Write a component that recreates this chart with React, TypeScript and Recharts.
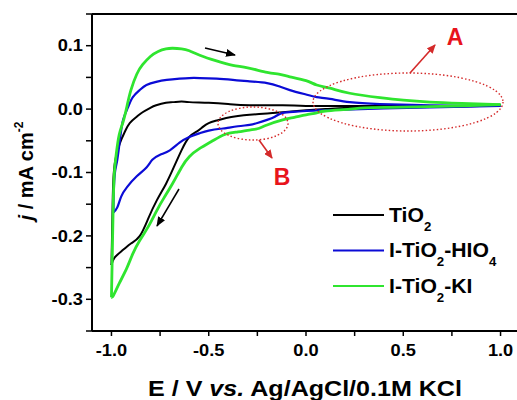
import React from "react";
import { LineChart, Line, XAxis, YAxis, ReferenceLine } from "recharts";

// [E (V), j (mA cm-2)]; forward sweep (-1.0 -> 1.0) and reverse sweep (1.0 -> -1.0)
const tio2Fwd: [number, number][] = [
  [-1.0, -0.246], [-0.997, -0.2], [-0.994, -0.15], [-0.99, -0.11], [-0.98, -0.08],
  [-0.957, -0.054], [-0.93, -0.035], [-0.906, -0.022], [-0.87, -0.012], [-0.84, -0.005],
  [-0.8, 0.002], [-0.77, 0.006], [-0.72, 0.01], [-0.685, 0.011], [-0.64, 0.012],
  [-0.6, 0.011], [-0.5, 0.01], [-0.4, 0.008], [-0.29, 0.006], [-0.12, 0.006],
  [0.0, 0.005], [0.225, 0.005], [0.5, 0.005], [0.8, 0.005], [1.0, 0.006],
];
const tio2Rev: [number, number][] = [
  [1.0, 0.006], [0.8, 0.004], [0.5, 0.003], [0.225, 0.002], [0.1, 0.0], [0.0, -0.002],
  [-0.12, -0.005], [-0.2, -0.007], [-0.29, -0.009], [-0.35, -0.011], [-0.41, -0.014],
  [-0.46, -0.018], [-0.5, -0.022], [-0.53, -0.028], [-0.56, -0.035], [-0.6, -0.044],
  [-0.64, -0.065], [-0.68, -0.092], [-0.72, -0.118], [-0.767, -0.144], [-0.81, -0.172],
  [-0.854, -0.2], [-0.9, -0.212], [-0.94, -0.222], [-0.983, -0.234], [-1.0, -0.246],
];

const hio4Fwd: [number, number][] = [
  [-0.99, -0.163], [-0.988, -0.13], [-0.982, -0.1], [-0.97, -0.08], [-0.955, -0.045],
  [-0.94, -0.017], [-0.915, 0.003], [-0.89, 0.019], [-0.855, 0.03], [-0.82, 0.038],
  [-0.77, 0.043], [-0.716, 0.046], [-0.65, 0.048], [-0.6, 0.049], [-0.546, 0.049],
  [-0.46, 0.048], [-0.376, 0.046], [-0.3, 0.044], [-0.2, 0.041], [-0.14, 0.036],
  [-0.083, 0.03], [0.0, 0.023], [0.055, 0.019], [0.123, 0.016], [0.225, 0.011],
  [0.38, 0.008], [0.637, 0.006], [0.85, 0.005], [1.0, 0.005],
];
const hio4Rev: [number, number][] = [
  [1.0, 0.005], [0.7, 0.003], [0.4, 0.001], [0.2, -0.001], [0.055, -0.002], [-0.05, -0.004],
  [-0.12, -0.006], [-0.16, -0.012], [-0.2, -0.017], [-0.25, -0.022], [-0.29, -0.025],
  [-0.35, -0.027], [-0.41, -0.03], [-0.44, -0.031], [-0.5, -0.034], [-0.546, -0.038],
  [-0.6, -0.044], [-0.65, -0.053], [-0.7, -0.065], [-0.75, -0.072], [-0.79, -0.08],
  [-0.82, -0.092], [-0.87, -0.106], [-0.92, -0.123], [-0.95, -0.138], [-0.97, -0.155],
  [-0.99, -0.163],
];

const kiFwd: [number, number][] = [
  [-1.0, -0.297], [-0.997, -0.25], [-0.994, -0.2], [-0.99, -0.14], [-0.985, -0.1],
  [-0.975, -0.07], [-0.96, -0.04], [-0.94, -0.02], [-0.92, 0.005], [-0.9, 0.03],
  [-0.87, 0.055], [-0.84, 0.07], [-0.8, 0.083], [-0.76, 0.091], [-0.72, 0.095],
  [-0.685, 0.096], [-0.64, 0.095], [-0.6, 0.092], [-0.546, 0.085], [-0.46, 0.076],
  [-0.376, 0.069], [-0.3, 0.065], [-0.2, 0.058], [-0.14, 0.055], [-0.083, 0.051],
  [0.0, 0.045], [0.055, 0.038], [0.123, 0.033], [0.225, 0.025], [0.38, 0.018],
  [0.5, 0.014], [0.637, 0.011], [0.8, 0.009], [1.0, 0.007],
];
const kiRev: [number, number][] = [
  [1.0, 0.007], [0.8, 0.005], [0.5, 0.003], [0.3, 0.002], [0.225, 0.0], [0.1, -0.003],
  [0.055, -0.006], [0.0, -0.009], [-0.06, -0.013], [-0.12, -0.017], [-0.2, -0.025],
  [-0.25, -0.031], [-0.29, -0.033], [-0.35, -0.036], [-0.417, -0.04], [-0.48, -0.05],
  [-0.546, -0.062], [-0.6, -0.075], [-0.64, -0.092], [-0.685, -0.117], [-0.73, -0.14],
  [-0.767, -0.16], [-0.81, -0.185], [-0.854, -0.207], [-0.89, -0.228], [-0.92, -0.25],
  [-0.96, -0.275], [-0.99, -0.294], [-1.0, -0.297],
];

const xTicks = [-1.0, -0.75, -0.5, -0.25, 0.0, 0.25, 0.5, 0.75, 1.0];
const yTicks = [-0.35, -0.3, -0.25, -0.2, -0.15, -0.1, -0.05, 0.0, 0.05, 0.1, 0.15];

const FONT = "'Liberation Sans', Arial, sans-serif";
const BLACK = "#000000";
const BLUE = "#0b0bd6";
const GREEN = "#2fe52f";
const RED = "#d42a2a";

const toPts = (a: [number, number][]) => a.map(([x, y]) => ({ x, y }));

const isMajor = (v: number, step: number) =>
  Math.abs(v / step - Math.round(v / step)) < 1e-6;

const XTick = (props: any) => {
  const { x, y, payload } = props;
  const v = payload.value as number;
  if (!isMajor(v, 0.5)) return <g />;
  return (
    <g transform={`translate(${x},${y}) scale(1.14,1)`}>
      <text textAnchor="middle" dy="0.71em" fontSize={16} fontWeight="bold" fill="#000" fontFamily={FONT}>
        {v.toFixed(1)}
      </text>
    </g>
  );
};

const YTick = (props: any) => {
  const { x, y, payload } = props;
  const v = payload.value as number;
  if (!isMajor(v, 0.1)) return <g />;
  return (
    <g transform={`translate(${x},${y}) scale(1.14,1)`}>
      <text textAnchor="end" dy="0.36em" fontSize={16} fontWeight="bold" fill="#000" fontFamily={FONT}>
        {v.toFixed(1)}
      </text>
    </g>
  );
};

const series = [
  { key: "tio2", color: BLACK, width: 2, fwd: tio2Fwd, rev: tio2Rev },
  { key: "hio4", color: BLUE, width: 2.2, fwd: hio4Fwd, rev: hio4Rev },
  { key: "ki", color: GREEN, width: 2.8, fwd: kiFwd, rev: kiRev },
];

const legendRows = [
  { color: BLACK, main: "TiO", parts: [["2", "sub"]] },
  { color: BLUE, main: "I-TiO", parts: [["2", "sub"], ["-HIO", "n"], ["4", "sub"]] },
  { color: GREEN, main: "I-TiO", parts: [["2", "sub"], ["-KI", "n"]] },
];

export default function App() {
  return (
    <div style={{ position: "absolute", left: 0, top: 0, width: 517, height: 400, overflow: "hidden", background: "#fff" }}>
      <LineChart width={520} height={400} margin={{ top: 14, right: 0, bottom: 0, left: 0 }}>
        <XAxis
          type="number"
          dataKey="x"
          domain={[-1.1, 1.1]}
          ticks={xTicks}
          interval={0}
          allowDataOverflow
          height={69}
          tickSize={5}
          tickMargin={9}
          tick={(p: any) => <XTick {...p} />}
          axisLine={{ stroke: "#000", strokeWidth: 2 }}
          tickLine={{ stroke: "#000", strokeWidth: 1.5 }}
        />
        <YAxis
          type="number"
          dataKey="y"
          domain={[-0.35, 0.15]}
          ticks={yTicks}
          interval={0}
          allowDataOverflow
          width={92}
          tickSize={6}
          tickMargin={3}
          tick={(p: any) => <YTick {...p} />}
          axisLine={{ stroke: "#000", strokeWidth: 2 }}
          tickLine={{ stroke: "#000", strokeWidth: 1.5 }}
        />
        <ReferenceLine y={0.15} stroke="#000" strokeWidth={2} />
        {series.flatMap((s) => [
          <Line key={s.key + "f"} data={toPts(s.fwd)} dataKey="y" stroke={s.color} strokeWidth={s.width} dot={false} isAnimationActive={false} type="natural" />,
          <Line key={s.key + "r"} data={toPts(s.rev)} dataKey="y" stroke={s.color} strokeWidth={s.width} dot={false} isAnimationActive={false} type="natural" />,
        ])}
      </LineChart>

      <svg width={517} height={400} style={{ position: "absolute", left: 0, top: 0, pointerEvents: "none" }}>
        <defs>
          <marker id="ahRed" markerWidth="9" markerHeight="8" refX="8" refY="4" orient="auto" markerUnits="userSpaceOnUse">
            <path d="M0,0 L9,4 L0,8 z" fill={RED} />
          </marker>
          <marker id="ahBlack" markerWidth="10" markerHeight="8" refX="9" refY="4" orient="auto" markerUnits="userSpaceOnUse">
            <path d="M0,0 L10,4 L0,8 z" fill="#000" />
          </marker>
        </defs>

        {/* sweep direction arrows */}
        <line x1={205} y1={48} x2={235} y2={55} stroke="#000" strokeWidth={1.5} markerEnd="url(#ahBlack)" />
        <line x1={179} y1={189} x2={157} y2={226} stroke="#000" strokeWidth={1.5} markerEnd="url(#ahBlack)" />

        {/* annotation A */}
        <ellipse cx={408} cy={102} rx={95} ry={29} fill="none" stroke={RED} strokeWidth={1.4} strokeDasharray="1.5 2.2" />
        <line x1={410} y1={73} x2={435} y2={45} stroke={RED} strokeWidth={1.6} markerEnd="url(#ahRed)" />
        <text x={455} y={45} textAnchor="middle" fontSize={23} fontWeight="bold" fill="#e8141c" fontFamily={FONT}>A</text>

        {/* annotation B */}
        <ellipse cx={253} cy={123.5} rx={35} ry={16.5} fill="none" stroke={RED} strokeWidth={1.4} strokeDasharray="1.5 2.2" />
        <line x1={259} y1={140} x2={272} y2={158} stroke={RED} strokeWidth={1.6} markerEnd="url(#ahRed)" />
        <text x={282} y={185} textAnchor="middle" fontSize={23} fontWeight="bold" fill="#e8141c" fontFamily={FONT}>B</text>

        {/* legend */}
        {legendRows.map((r, i) => {
          const cy = 215 + i * 35.5;
          return (
            <g key={i}>
              <line x1={333} x2={384} y1={cy} y2={cy} stroke={r.color} strokeWidth={2} />
              <g transform={`translate(389,${cy + 6.5}) scale(1.06,1)`}>
                <text fontSize={20} fontWeight="bold" fill="#000" fontFamily={FONT}>
                  {r.main}
                  {r.parts.map(([t, k], j) =>
                    k === "sub" ? (
                      <tspan key={j} fontSize={12.5} dy={9}>{t}</tspan>
                    ) : (
                      <tspan key={j} dy={-9}>{t}</tspan>
                    )
                  )}
                </text>
              </g>
            </g>
          );
        })}

        {/* x axis title */}
        <g transform="translate(305,396) scale(1.14,1)">
          <text textAnchor="middle" fontSize={22} fontWeight="bold" fill="#000" fontFamily={FONT}>
            E / V <tspan fontStyle="italic">vs.</tspan> Ag/AgCl/0.1M KCl
          </text>
        </g>

        {/* y axis title */}
        <g transform="translate(33,171) rotate(-90)">
          <text textAnchor="middle" fontSize={20} fontWeight="bold" fill="#000" fontFamily={FONT}>
            <tspan fontStyle="italic">j</tspan> / mA cm<tspan fontSize={12} dy={-10}>-2</tspan>
          </text>
        </g>
      </svg>
    </div>
  );
}
